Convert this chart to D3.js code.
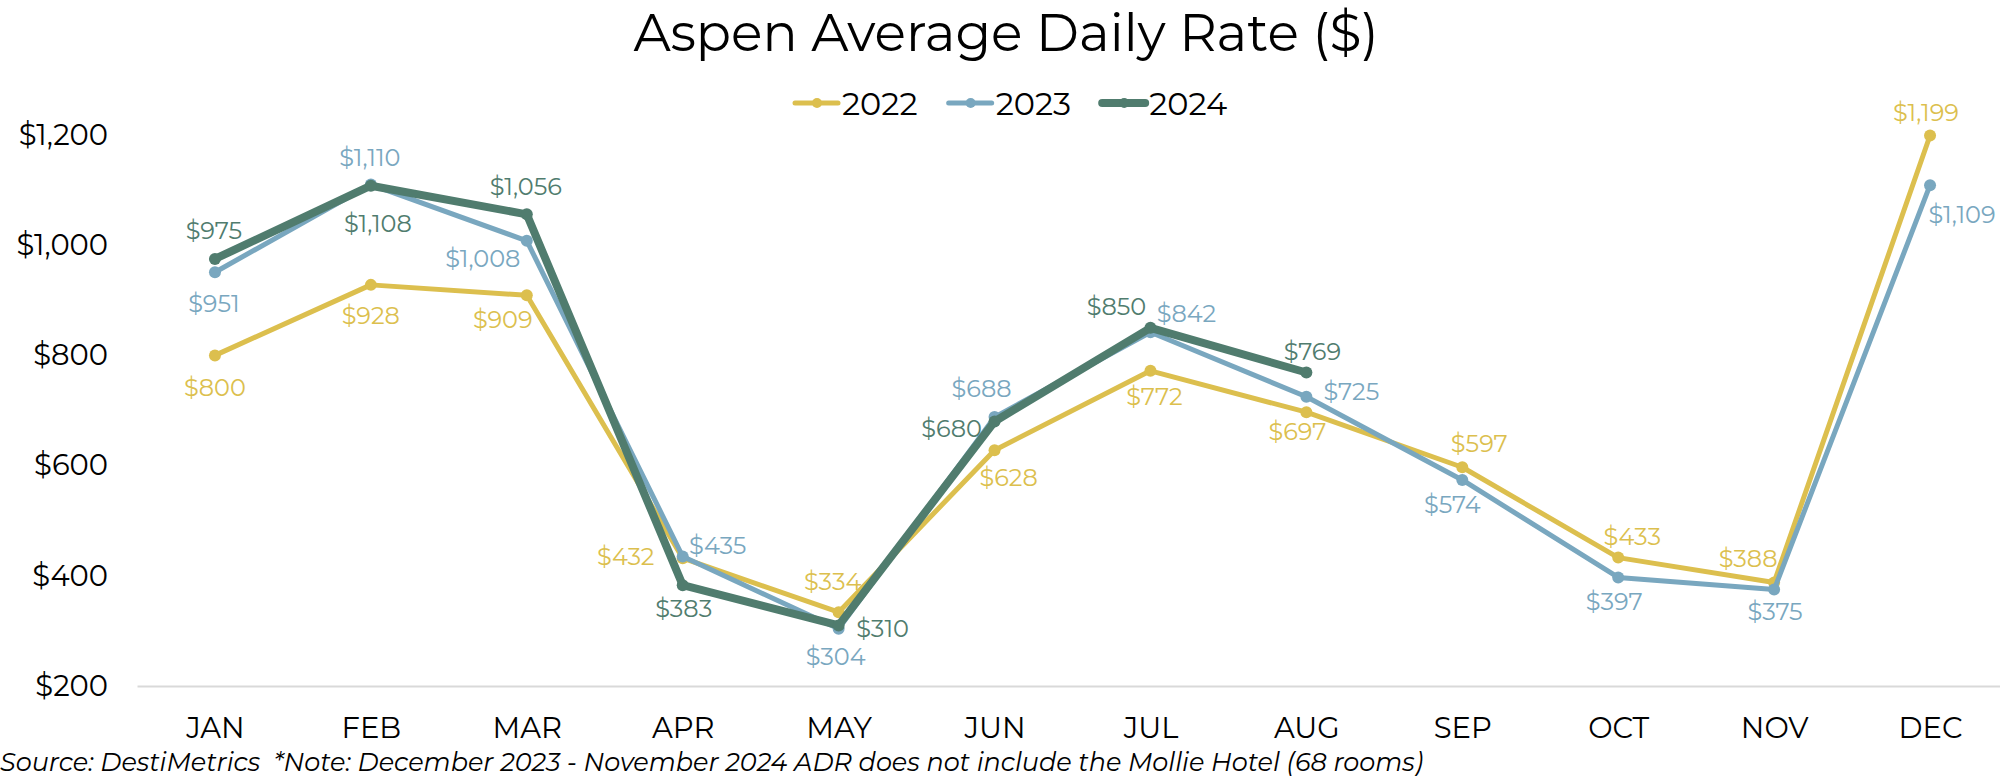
<!DOCTYPE html>
<html>
<head>
<meta charset="utf-8">
<script src="https://cdn.jsdelivr.net/npm/d3@7"></script>
<style>
  html, body { margin: 0; padding: 0; background: #ffffff; }
  svg { display: block; font-family: "Montserrat", "Inter", "Open Sans", sans-serif; }
</style>
</head>
<body>
<svg id="chart" width="2000" height="778"></svg>
<script>
// ---------- data ----------
const months = ["JAN","FEB","MAR","APR","MAY","JUN","JUL","AUG","SEP","OCT","NOV","DEC"];
const seriesNames = ["2022","2023","2024"];
const values2022 = [800, 928, 909, 432, 334, 628, 772, 697, 597, 433, 388, 1199];
const values2023 = [951, 1110, 1008, 435, 304, 688, 842, 725, 574, 397, 375, 1109];
const values2024 = [975, 1108, 1056, 383, 310, 680, 850, 769];
const yTicks = [200, 400, 600, 800, 1000, 1200];
const titleText = "Aspen Average Daily Rate ($)";
const footnote = "Source: DestiMetrics  *Note: December 2023 - November 2024 ADR does not include the Mollie Hotel (68 rooms)";

// ---------- styling / label placement (not data) ----------
const colors = { "2022": "#dcbf4e", "2023": "#79a7bf", "2024": "#507c6e" };
const widths = { "2022": 5, "2023": 5, "2024": 8 };
const labelOffsets = {
  "2022": [[0,32],[0,31],[-24,24],[-57,-2],[-6,-31],[14,27],[4,26],[-9,19],[17,-24],[14,-21],[-26,-24],[-4,-23]],
  "2023": [[-1,31],[-1,-27],[-44,18],[35,-11],[-3,28],[-13,-29],[36,-19],[45,-5],[-10,25],[-4,24],[1,22],[32,29]],
  "2024": [[-1,-28],[7,38],[-1,-28],[1,23],[44,3],[-43,7],[-34,-21],[6,-21]]
};

const series = [
  { name: "2022", values: values2022 },
  { name: "2023", values: values2023 },
  { name: "2024", values: values2024 }
];

const svg = d3.select("#chart");
const plotLeft = 137, plotRight = 2008, plotTop = 135, plotBottom = 686;

const x = d3.scalePoint().domain(months).range([plotLeft, plotRight]).padding(0.5);
const y = d3.scaleLinear().domain([200, 1200]).range([plotBottom, plotTop]);
const fmt = d => "$" + d3.format(",")(d);

// title
svg.append("text")
  .attr("x", 1006).attr("y", 51)
  .attr("text-anchor", "middle")
  .attr("font-size", 52)
  .attr("fill", "#000")
  .text(titleText);

// x axis
const xAxis = svg.append("g")
  .attr("transform", `translate(0,${plotBottom})`)
  .call(d3.axisBottom(x).tickSize(0).tickPadding(31));
xAxis.attr("font-family", null).attr("font-size", null);
xAxis.select(".domain").attr("stroke", "#d9d9d9").attr("stroke-width", 2);
xAxis.selectAll("text").attr("font-size", 29).attr("fill", "#000");

// y axis
const yAxis = svg.append("g")
  .attr("transform", `translate(${plotLeft},0)`)
  .call(d3.axisLeft(y).tickValues(yTicks).tickSize(0).tickPadding(29).tickFormat(fmt));
yAxis.attr("font-family", null).attr("font-size", null);
yAxis.select(".domain").remove();
yAxis.selectAll("text").attr("font-size", 29).attr("fill", "#000");

// lines
const line = d3.line().x((d, i) => x(months[i])).y(d => y(d));

const g = svg.append("g");
series.forEach(s => {
  g.append("path")
    .datum(s.values)
    .attr("fill", "none")
    .attr("stroke", colors[s.name])
    .attr("stroke-width", widths[s.name])
    .attr("stroke-linejoin", "round")
    .attr("stroke-linecap", "round")
    .attr("d", line);
  g.selectAll(null)
    .data(s.values)
    .join("circle")
    .attr("cx", (d, i) => x(months[i]))
    .attr("cy", d => y(d))
    .attr("r", 6)
    .attr("fill", colors[s.name]);
});

// data labels
series.forEach(s => {
  svg.append("g").selectAll("text")
    .data(s.values)
    .join("text")
    .attr("x", (d, i) => x(months[i]) + labelOffsets[s.name][i][0])
    .attr("y", (d, i) => y(d) + labelOffsets[s.name][i][1])
    .attr("text-anchor", "middle")
    .attr("dominant-baseline", "central")
    .attr("font-size", 24)
    .attr("fill", colors[s.name])
    .text(fmt);
});

// legend
const legend = svg.append("g");
let lx = 795;
const ly = 103;
series.forEach(s => {
  const item = legend.append("g");
  item.append("line")
    .attr("x1", lx).attr("x2", lx + 43)
    .attr("y1", ly).attr("y2", ly)
    .attr("stroke", colors[s.name])
    .attr("stroke-width", widths[s.name])
    .attr("stroke-linecap", "round");
  item.append("circle")
    .attr("cx", lx + 22).attr("cy", ly).attr("r", 5)
    .attr("fill", colors[s.name]);
  const t = item.append("text")
    .attr("x", lx + 47).attr("y", ly)
    .attr("dominant-baseline", "central")
    .attr("font-size", 32)
    .attr("fill", "#000")
    .text(s.name);
  lx += 47 + t.node().getComputedTextLength() + 31;
});

// footnote
svg.append("text")
  .attr("x", 0).attr("y", 771)
  .attr("font-size", 25.5)
  .attr("font-style", "italic")
  .attr("fill", "#000")
  .style("white-space", "pre")
  .text(footnote);
</script>
</body>
</html>
